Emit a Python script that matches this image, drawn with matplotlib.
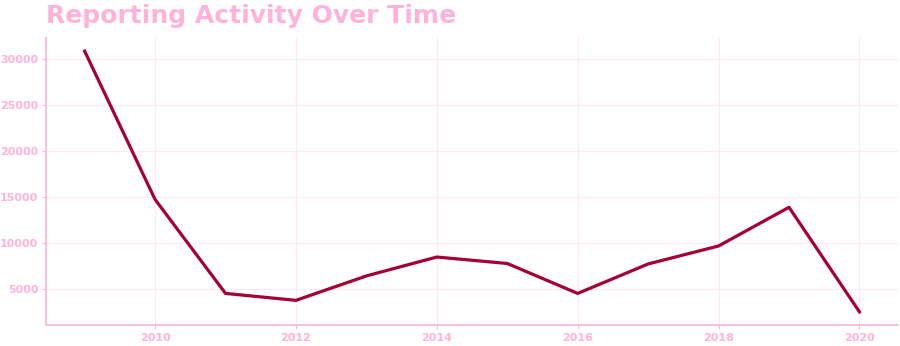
import matplotlib
matplotlib.use("Agg")
import matplotlib.pyplot as plt

# Reports per year
years = [2009, 2010, 2011, 2012, 2013, 2014, 2015, 2016, 2017, 2018, 2019, 2020]
reports = [30850, 14750, 4550, 3800, 6450, 8500, 7800, 4550, 7750, 9700, 13900, 2550]

pink = "#ffb3d9"
line_color = "#a50034"

fig = plt.figure(figsize=(9, 3.46), dpi=100)
ax = fig.add_axes([0.051, 0.061, 0.947, 0.829])

ax.plot(years, reports, color=line_color, linewidth=2.3)

ax.set_xticks([2010, 2012, 2014, 2016, 2018, 2020])
ax.set_yticks([5000, 10000, 15000, 20000, 25000, 30000])
ax.grid(True, color="#ffe8f3", linewidth=0.8)
ax.set_axisbelow(True)

for side in ["top", "right"]:
    ax.spines[side].set_visible(False)
for side in ["left", "bottom"]:
    ax.spines[side].set_color(pink)
    ax.spines[side].set_linewidth(1.2)

ax.tick_params(colors=pink, labelsize=8, length=3, pad=2.5)
for lab in ax.get_xticklabels() + ax.get_yticklabels():
    lab.set_fontweight("bold")

fig.text(0.051, 0.955, "Reporting Activity Over Time", color=pink,
         fontsize=18, fontweight="heavy", va="center", ha="left")

fig.savefig("out.png", dpi=100)
